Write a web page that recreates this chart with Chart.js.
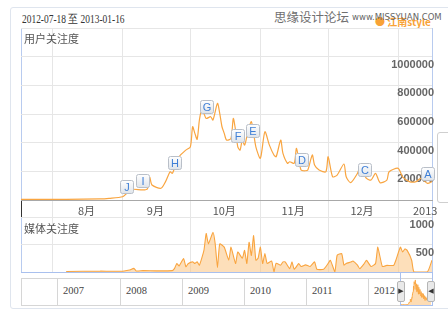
<!DOCTYPE html>
<html>
<head>
<meta charset="utf-8">
<script src="https://cdn.jsdelivr.net/npm/chart.js@4"></script>
<style>
body { margin: 0; width: 448px; height: 320px; overflow: hidden; position: relative; background: #fff; }
.abs { position: absolute; }
canvas { position: absolute; left: 0; top: 0; }
#panel { left: 10px; top: 7px; width: 450px; height: 300px; border: 1px solid #dfe5ee; border-radius: 3px; }
#title { left: 22px; top: 12px; font: 11.5px "Liberation Serif", serif; color: #333; transform: scaleX(0.82); transform-origin: left top; white-space: nowrap; }
#wm1 { left: 274px; top: 7px; font: 12.5px "Noto Sans CJK SC", sans-serif; color: #6f6f6f; }
#wm2 { left: 352px; top: 12px; font: 8.5px "DejaVu Sans", sans-serif; color: #666; }
#legend { left: 375px; top: 14px; font: bold 10px "Noto Sans CJK SC", sans-serif; color: #f8a236; }
#frame { left: 21px; top: 28px; width: 410px; height: 244px; border: 1px solid #b8cbef; border-bottom: none; }
#sep { left: 22px; top: 217px; width: 410px; height: 0; border-top: 1px solid #c4c4c4; }
.ctitle { left: 24px; font: 11px "Noto Sans CJK SC", sans-serif; color: #555; }
#nav { left: 21px; top: 278px; width: 410px; height: 26px; border: 1px solid #d6d6d6; background: #fff; }
.cell { top: 278px; height: 28px; border-left: 1px solid #d6d6d6; }
.year { top: 285px; font: 10.5px "Liberation Serif", serif; color: #444; }
#sel { left: 400px; top: 272px; width: 31px; height: 33px; border: 1px solid #a9c0ee; border-top: none; }
.handle { top: 281px; width: 6px; height: 19px; border: 1px solid #b5b5b5; border-radius: 2px; background: #e9e9e9; font: 7px "DejaVu Sans"; color: #333; line-height: 19px; text-align: center; }
#tab { left: 437px; top: 132px; width: 14px; height: 69px; border: 1px solid #cfcfcf; border-radius: 3px; }
</style>
</head>
<body>
<div id="panel" class="abs"></div>
<div id="tab" class="abs"></div>
<div id="title" class="abs">2012-07-18 至 2013-01-16</div>
<div id="legend" class="abs">● 江南style</div>
<div id="wm1" class="abs">思缘设计论坛</div>
<div id="wm2" class="abs">www.MISSYUAN.COM</div>
<div id="nav" class="abs"></div>
<div id="years"></div>
<div id="frame" class="abs"></div>
<div id="sep" class="abs"></div>
<canvas id="navChart" width="448" height="320"></canvas>
<canvas id="mediaChart" width="448" height="320"></canvas>
<canvas id="userChart" width="448" height="320"></canvas>
<div class="abs ctitle" style="top:30px">用户关注度</div>
<div class="abs ctitle" style="top:220px">媒体关注度</div>
<div id="sel" class="abs"></div>
<div class="abs handle" style="left:397px">▶</div>
<div class="abs handle" style="left:427px">◀</div>
<script>
// days counted from 2012-07-18
const dayMax = 182;
const monthStarts = [14, 45, 75, 106, 136, 167];
const monthLabels = ["8月", "9月", "10月", "11月", "12月", "2013"];
const monthLabelDays = [29, 59.5, 90, 120.5, 151, 179];

const userDays = [0, 20, 35, 39, 45, 47, 49, 50, 54, 56, 57, 58, 62, 64, 66, 67, 68, 70, 73, 75, 76, 77, 78, 79, 80, 81, 82, 84, 85, 87, 88, 89, 90, 91, 93, 94, 95, 96, 97, 98, 99, 100, 102, 104, 106, 108, 110, 112, 113, 115, 116, 118, 119, 121, 122, 124, 126, 127, 129, 130, 132, 135, 136, 138, 140, 143, 144, 146, 149, 150, 153, 155, 157, 159, 162, 163, 167, 169, 172, 175, 177, 180, 182];
const userValues = [5000, 5000, 8000, 12000, 23000, 49000, 70000, 75000, 70000, 79000, 158000, 105000, 82000, 128000, 197000, 186000, 223000, 302000, 348000, 371000, 511000, 465000, 423000, 558000, 627000, 604000, 569000, 581000, 558000, 674000, 604000, 511000, 465000, 418000, 430000, 569000, 488000, 371000, 348000, 418000, 383000, 441000, 546000, 371000, 291000, 476000, 383000, 314000, 302000, 418000, 325000, 256000, 267000, 256000, 360000, 209000, 204000, 209000, 314000, 244000, 209000, 197000, 302000, 162000, 174000, 251000, 162000, 121000, 186000, 221000, 151000, 139000, 186000, 121000, 139000, 197000, 221000, 162000, 128000, 128000, 151000, 116000, 128000];

const mediaDays = [20, 35, 45, 48, 50, 51, 54, 60, 67, 68, 69, 70, 72, 73, 74, 76, 77, 78, 79, 81, 82, 83, 85, 86, 87, 88, 90, 92, 93, 95, 96, 98, 99, 100, 101, 102, 103, 104, 105, 106, 107, 108, 109, 111, 112, 113, 115, 116, 117, 119, 120, 121, 123, 124, 126, 128, 130, 131, 134, 136, 137, 139, 140, 142, 143, 144, 146, 147, 149, 150, 152, 153, 155, 157, 158, 160, 162, 165, 166, 168, 169, 170, 171, 173, 174, 180, 182];
const mediaValues = [10, 15, 15, 36, 66, 18, 25, 20, 25, 66, 155, 110, 245, 95, 150, 184, 155, 184, 125, 393, 700, 512, 720, 512, 80, 512, 452, 214, 452, 155, 363, 250, 393, 155, 541, 300, 661, 214, 250, 452, 155, 334, 155, 200, 5, 160, 125, 184, 184, 60, 184, 50, 155, 100, 130, 100, 184, 50, 50, 155, 214, 5, 304, 334, 125, 155, 180, 200, 125, 60, 155, 214, 100, 155, 452, 100, 120, 120, 214, 452, 363, 420, 393, 214, 5, 5, 214];

const markerLetters = ["J", "I", "H", "G", "F", "E", "D", "C", "A"];
const markerDays = [46.5, 54, 67.8, 82, 96, 102.7, 124, 152.3, 180];
const markerValues = [97000, 139000, 265000, 655000, 453000, 488000, 286000, 216000, 188000];

const years = ["2007", "2008", "2009", "2010", "2011", "2012"];
const yearEdges = [57, 120, 182, 244, 306, 368];

const lineColor = "#f9a540";
const gridColor = "#e6e6e6";

function toPoints(xs, ys) {
    return xs.map((x, i) => ({x: x, y: ys[i]}));
}

// navigator year cells
let yearBox = document.getElementById("years");
for (let i = 0; i < years.length; i++) {
    let cell = document.createElement("div");
    cell.className = "abs cell";
    cell.style.left = yearEdges[i] + "px";
    yearBox.appendChild(cell);
    let lab = document.createElement("div");
    lab.className = "abs year";
    lab.textContent = years[i];
    lab.style.left = (yearEdges[i] + 6) + "px";
    yearBox.appendChild(lab);
}

const markerPlugin = {
    id: "markers",
    afterDatasetsDraw(chart) {
        let ctx = chart.ctx;
        let xs = chart.scales.x, ys = chart.scales.y;
        ctx.save();
        for (let i = 0; i < markerLetters.length; i++) {
            let cx = xs.getPixelForValue(markerDays[i]);
            let cy = ys.getPixelForValue(markerValues[i]);
            let w = 13, h = 13;
            let x0 = Math.round(cx - w / 2) + 0.5, y0 = Math.round(cy - h / 2) + 0.5;
            let g = ctx.createLinearGradient(0, y0, 0, y0 + h);
            g.addColorStop(0, "#ffffff");
            g.addColorStop(1, "#dfe4ea");
            ctx.beginPath();
            ctx.roundRect(x0, y0, w, h, 2);
            ctx.fillStyle = g;
            ctx.fill();
            ctx.strokeStyle = "#b9bfc8";
            ctx.lineWidth = 1;
            ctx.stroke();
            ctx.fillStyle = "#3f7fd6";
            ctx.font = "11px 'Liberation Sans'";
            ctx.textAlign = "center";
            ctx.textBaseline = "middle";
            ctx.fillText(markerLetters[i], x0 + w / 2, y0 + h / 2 + 0.5);
        }
        ctx.restore();
    }
};

function xAxis(showLabels, height) {
    let allTicks = [0].concat(monthStarts, showLabels ? monthLabelDays : []);
    return {
        type: "linear",
        min: 0,
        max: dayMax,
        afterBuildTicks: (scale) => { scale.ticks = allTicks.map(v => ({value: v})); },
        afterFit: (scale) => { scale.height = height; },
        grid: {
            color: (c) => monthStarts.includes(c.tick.value) ? gridColor : "rgba(0,0,0,0)",
            tickColor: (c) => c.tick.value === 0 ? "#333" : (monthStarts.includes(c.tick.value) ? gridColor : "rgba(0,0,0,0)"),
            drawTicks: showLabels,
            tickLength: 17
        },
        border: {display: true, color: showLabels ? "#a8a8a8" : "#a9c0ee"},
        ticks: {
            display: showLabels,
            autoSkip: false,
            maxRotation: 0,
            padding: -13,
            color: "#555",
            font: {size: 11, family: "'Noto Sans CJK SC', sans-serif"},
            callback: (v) => {
                let k = monthLabelDays.indexOf(v);
                return k >= 0 ? monthLabels[k] : "";
            }
        }
    };
}

function yAxis(max, step, hideTop) {
    return {
        position: "right",
        min: 0,
        max: max,
        afterFit: (scale) => { scale.width = 0; },
        grid: {color: gridColor, drawTicks: false},
        border: {display: false},
        ticks: {
            stepSize: step,
            mirror: true,
            labelOffset: 8,
            padding: 2,
            color: "#666",
            font: {size: 11, weight: "bold", family: "'Liberation Sans', sans-serif"},
            callback: (v) => (v === 0 || (hideTop && v === max)) ? "" : v
        }
    };
}

const common = {
    responsive: false,
    animation: false,
    plugins: {legend: {display: false}, tooltip: {enabled: false}}
};

new Chart(document.getElementById("userChart"), {
    type: "line",
    data: {
        datasets: [{
            data: toPoints(userDays, userValues),
            borderColor: lineColor,
            borderWidth: 1.2,
            pointRadius: 0,
            tension: 0.25,
            fill: false
        }]
    },
    options: Object.assign({}, common, {
        layout: {padding: {left: 21, right: 16, top: 28, bottom: 103}},
        scales: {x: xAxis(true, 17), y: yAxis(1200000, 200000, true)}
    }),
    plugins: [markerPlugin]
});

new Chart(document.getElementById("mediaChart"), {
    type: "line",
    data: {
        datasets: [{
            data: toPoints(mediaDays, mediaValues),
            borderColor: lineColor,
            borderWidth: 1.1,
            backgroundColor: "rgba(252, 196, 130, 0.55)",
            pointRadius: 0,
            tension: 0.15,
            fill: "origin"
        }]
    },
    options: Object.assign({}, common, {
        layout: {padding: {left: 21, right: 16, top: 217, bottom: 48}},
        scales: {x: xAxis(false, 0), y: yAxis(1000, 500, false)}
    })
});

new Chart(document.getElementById("navChart"), {
    type: "line",
    data: {
        datasets: [{
            data: toPoints(userDays, userValues),
            borderColor: lineColor,
            borderWidth: 1,
            backgroundColor: "rgba(252, 196, 130, 0.6)",
            pointRadius: 0,
            tension: 0.2,
            fill: "origin"
        }]
    },
    options: Object.assign({}, common, {
        layout: {padding: {left: 401, right: 17, top: 279, bottom: 15}},
        scales: {
            x: {type: "linear", min: 0, max: dayMax, display: false},
            y: {min: 0, max: 700000, display: false}
        }
    })
});
</script>
</body>
</html>
